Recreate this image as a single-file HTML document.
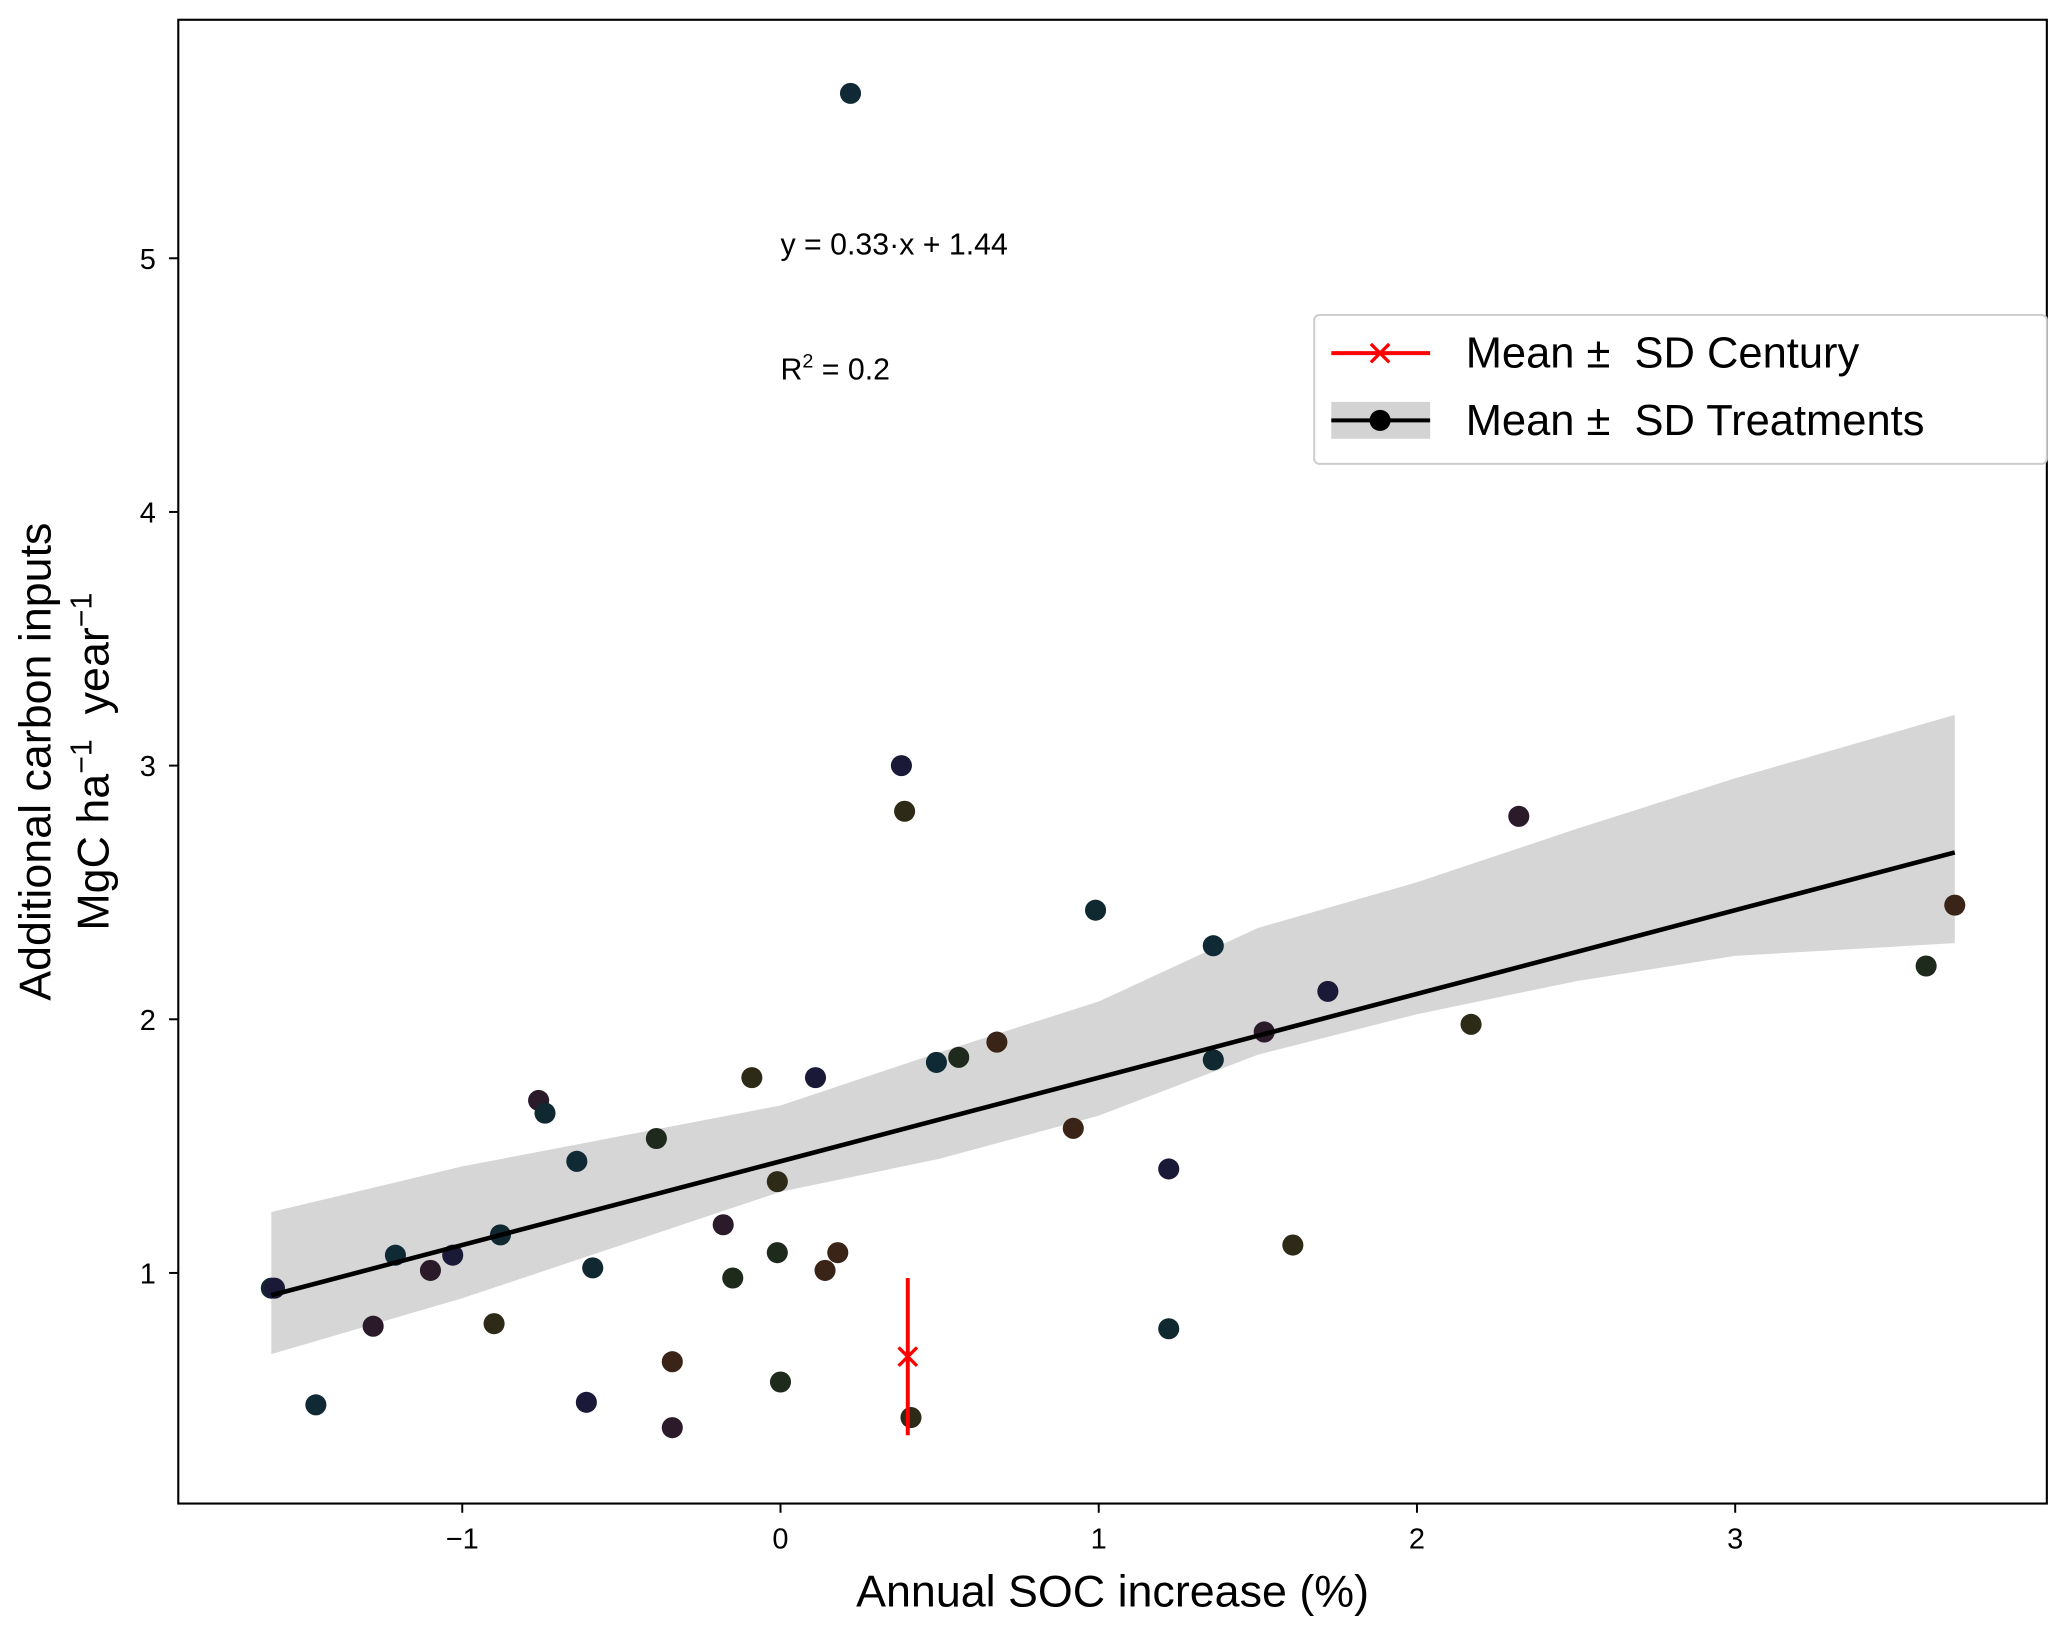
<!DOCTYPE html>
<html><head><meta charset="utf-8"><style>
html,body{margin:0;padding:0;background:#fff}
svg{display:block;font-family:"Liberation Sans",sans-serif}
</style></head><body>
<svg id="chart" width="2067" height="1634" viewBox="0 0 1568 1240" xmlns="http://www.w3.org/2000/svg">
<rect x="0" y="0" width="1568" height="1240" fill="#fff"/>
<g id="band"></g>
<g id="marks"></g>
<rect x="135" y="15" width="1418" height="1126" fill="none" stroke="#000" stroke-width="1.6"/>
<g id="xticks"></g>
<g id="yticks"></g>
<text x="844" y="1219" font-size="34" text-anchor="middle">Annual SOC increase (%)</text>
<text transform="translate(38,578) rotate(-90)" font-size="34" text-anchor="middle">Additional carbon inputs</text>
<text transform="translate(82,578) rotate(-90)" font-size="34" text-anchor="middle" style="white-space:pre">MgC ha<tspan font-size="23" dy="-13">−1</tspan><tspan dy="13">  year</tspan><tspan font-size="23" dy="-13">−1</tspan></text>
<text x="592" y="193" font-size="23">y = 0.33·x + 1.44</text>
<text x="592" y="288" font-size="23">R<tspan font-size="15" dy="-9">2</tspan><tspan dy="9"> = 0.2</tspan></text>
<g>
<rect x="997" y="239" width="556" height="113" rx="4" fill="#fff" stroke="#ccc" stroke-width="1.5"/>
<g>
<line x1="1010" y1="268" x2="1085" y2="268" stroke="#f00" stroke-width="3"/>
<path d="M1040,261 l14,14 M1054,261 l-14,14" stroke="#f00" stroke-width="2.5"/>
<text x="1112" y="279" font-size="33" style="white-space:pre">Mean ±  SD Century</text>
</g>
<g>
<rect x="1010" y="305" width="75" height="28" fill="#d3d3d3"/>
<line x1="1010" y1="319" x2="1085" y2="319" stroke="#000" stroke-width="3"/>
<circle cx="1047" cy="319" r="8" fill="#000"/>
<text x="1112" y="330" font-size="33" style="white-space:pre">Mean ±  SD Treatments</text>
</g>
</g>
</svg>
<script>
const pointsX=[0.22,0.38,0.39,2.32,0.99,3.69,3.60,1.36,1.72,2.17,1.52,1.36,0.68,0.56,0.49,0.11,-0.09,-0.76,-0.74,0.92,-0.39,-0.64,1.22,-0.01,-0.18,-0.88,0.18,-0.01,-1.21,-1.03,1.61,-1.10,-0.59,0.14,-0.15,-1.60,-1.59,-0.90,-1.28,1.22,-0.34,0.00,-1.46,-0.61,0.41,-0.34];
const pointsY=[5.65,3.00,2.82,2.80,2.43,2.45,2.21,2.29,2.11,1.98,1.95,1.84,1.91,1.85,1.83,1.77,1.77,1.68,1.63,1.57,1.53,1.44,1.41,1.36,1.19,1.15,1.08,1.08,1.07,1.07,1.11,1.01,1.02,1.01,0.98,0.94,0.94,0.80,0.79,0.78,0.65,0.57,0.48,0.49,0.43,0.39];
const bandX=[-1.6,-1,0,0.5,1,1.5,2,2.5,3,3.69];
const bandUpper=[1.24,1.42,1.66,1.87,2.07,2.36,2.54,2.75,2.95,3.20];
const bandLower=[0.68,0.90,1.32,1.45,1.62,1.86,2.02,2.15,2.25,2.30];
const slope=0.33, intercept=1.44, lineX=[-1.60,3.69];
const centuryX=[0.40], centuryMean=[0.67], centuryLow=[0.36], centuryHigh=[0.98];
const xTicks=[-1,0,1,2,3], yTicks=[1,2,3,4,5];
const xTickLabels=["−1","0","1","2","3"], yTickLabels=["1","2","3","4","5"];
const palette=["#0f2a35","#1a1a38","#2d2a18","#2a1a2a","#102830","#3a2418","#1d2a1c"];
const sx=v=>592+v*241.5, sy=v=>966-(v-1)*192.5;
const NS="http://www.w3.org/2000/svg";
function mk(t,a,p){const e=document.createElementNS(NS,t);for(const k in a)e.setAttribute(k,a[k]);p.appendChild(e);return e;}
const band=document.getElementById('band');
let d="M"+bandX.map((x,i)=>sx(x)+","+sy(bandUpper[i])).join(" L");
d+=" L"+bandX.map((x,i)=>sx(x)+","+sy(bandLower[i])).reverse().join(" L")+" Z";
const bp=mk('path',{d:d,fill:'#d6d6d6'},band);


const marks=document.getElementById('marks');
pointsX.forEach((x,i)=>{const c=mk('circle',{cx:sx(x),cy:sy(pointsY[i]),r:8,fill:palette[i%palette.length]},marks);

});
const rl=mk('line',{x1:sx(lineX[0]),y1:sy(slope*lineX[0]+intercept),x2:sx(lineX[1]),y2:sy(slope*lineX[1]+intercept),stroke:'#000','stroke-width':3.5},marks);


centuryX.forEach((x,i)=>{const g=mk('g',{},marks);


mk('line',{x1:sx(x),x2:sx(x),y1:sy(centuryLow[i]),y2:sy(centuryHigh[i]),stroke:'#f00','stroke-width':3},g);
const cx=sx(x),cy=sy(centuryMean[i]);
mk('path',{d:`M${cx-7},${cy-7} l14,14 M${cx+7},${cy-7} l-14,14`,stroke:'#f00','stroke-width':2.5},g);});
const xt=document.getElementById('xticks');
xTicks.forEach((v,i)=>{const g=mk('g',{},xt);


mk('line',{x1:sx(v),x2:sx(v),y1:1141,y2:1148,stroke:'#000','stroke-width':1.5},g);
const t=mk('text',{x:sx(v),y:1175,'font-size':22,'text-anchor':'middle'},g);t.textContent=xTickLabels[i];});
const yt=document.getElementById('yticks');
yTicks.forEach((v,i)=>{const g=mk('g',{},yt);


mk('line',{x1:128,x2:135,y1:sy(v),y2:sy(v),stroke:'#000','stroke-width':1.5},g);
const t=mk('text',{x:118,y:sy(v)+8,'font-size':22,'text-anchor':'end'},g);t.textContent=yTickLabels[i];});
</script>
</body></html>
